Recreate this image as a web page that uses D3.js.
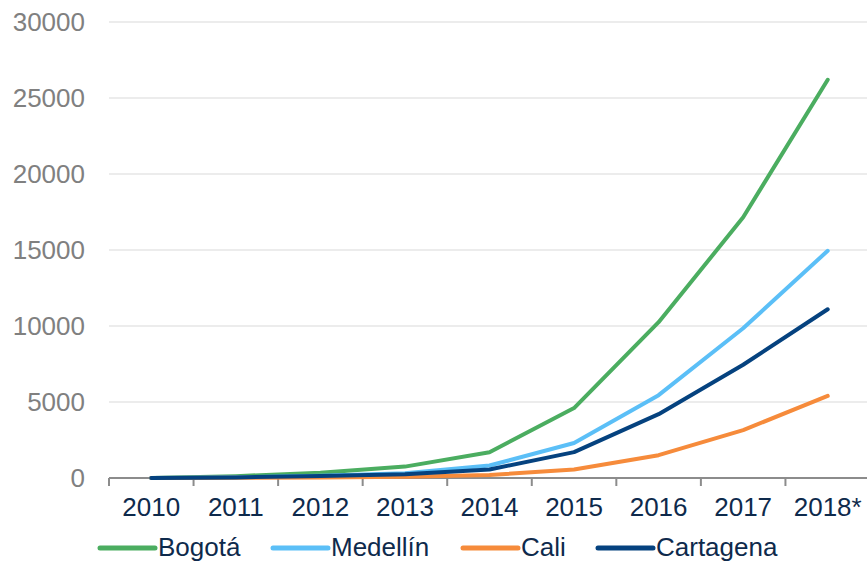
<!DOCTYPE html>
<html>
<head>
<meta charset="utf-8">
<script src="https://cdn.jsdelivr.net/npm/d3@7"></script>
<style>
  body { margin: 0; background: #fff; }
  svg { display: block; font-family: "Liberation Sans", Arial, sans-serif; }
</style>
</head>
<body>
<div id="chart"></div>
<script>
// Data
let years = ['2010', '2011', '2012', '2013', '2014', '2015', '2016', '2017', '2018*'];
let bogota = [0, 120, 350, 750, 1700, 4600, 10250, 17150, 26200];
let medellin = [0, 50, 150, 320, 820, 2300, 5450, 9850, 14950];
let cali = [0, 10, 30, 80, 200, 560, 1500, 3150, 5400];
let cartagena = [0, 40, 130, 250, 560, 1700, 4200, 7450, 11100];
let cities = ['Bogotá', 'Medellín', 'Cali', 'Cartagena'];
let yTicks = [0, 5000, 10000, 15000, 20000, 25000, 30000];

let seriesList = [
    { name: cities[0], values: bogota, color: '#4bad60' },
    { name: cities[1], values: medellin, color: '#5bbff7' },
    { name: cities[2], values: cali, color: '#f68b3b' },
    { name: cities[3], values: cartagena, color: '#05427f' }
];

// Dimensions
let svgWidth = 867;
let svgHeight = 563;
let margins = { top: 22, left: 109, bottom: 85 };
let chartWidth = 761;
let chartHeight = svgHeight - margins.top - margins.bottom;

let svg = d3.select('#chart').append('svg')
    .attr('width', svgWidth)
    .attr('height', svgHeight);
let chart = svg.append('g')
    .attr('transform', `translate(${margins.left}, ${margins.top})`);

// Scales
let xScale = d3.scaleBand().domain(years).range([0, chartWidth]).padding(0);
let yScale = d3.scaleLinear().domain([0, 30000]).range([chartHeight, 0]);

// Gridlines
chart.append('g')
    .selectAll('line')
    .data(yTicks.slice(1)).enter()
    .append('line')
    .attr('x1', 0)
    .attr('x2', chartWidth)
    .attr('y1', d => yScale(d))
    .attr('y2', d => yScale(d))
    .attr('stroke', '#d9d9d9')
    .attr('stroke-width', 1);

// Y axis labels
let yAxis = d3.axisLeft(yScale).tickValues(yTicks).tickFormat(d3.format('d')).tickSize(0).tickPadding(24);
let yAxisTag = chart.append('g').call(yAxis);
yAxisTag.select('.domain').remove();
yAxisTag.selectAll('text')
    .attr('fill', '#808080')
    .style('font-size', '26px')
    .style('font-family', '"Liberation Sans", Arial, sans-serif');

// X axis
let xAxis = d3.axisBottom(xScale).tickSize(0).tickPadding(20);
let xAxisTag = chart.append('g')
    .attr('transform', `translate(0, ${chartHeight})`)
    .call(xAxis);
xAxisTag.select('.domain').remove();
xAxisTag.selectAll('text')
    .attr('fill', '#0e2a4c')
    .style('font-size', '26px')
    .style('font-family', '"Liberation Sans", Arial, sans-serif');

// Axis line and boundary ticks
chart.append('line')
    .attr('x1', 0)
    .attr('x2', chartWidth)
    .attr('y1', chartHeight)
    .attr('y2', chartHeight)
    .attr('stroke', '#8c8c8c')
    .attr('stroke-width', 2);
chart.append('g')
    .selectAll('line')
    .data(years).enter()
    .append('line')
    .attr('x1', d => xScale(d))
    .attr('x2', d => xScale(d))
    .attr('y1', chartHeight)
    .attr('y2', chartHeight + 8)
    .attr('stroke', '#8c8c8c')
    .attr('stroke-width', 2);

// Lines
let line = d3.line()
    .x((d, i) => xScale(years[i]) + xScale.bandwidth() / 2)
    .y(d => yScale(d));

chart.append('g')
    .selectAll('path')
    .data(seriesList).enter()
    .append('path')
    .attr('d', d => line(d.values))
    .attr('fill', 'none')
    .attr('stroke', d => d.color)
    .attr('stroke-width', 4)
    .attr('stroke-linecap', 'round')
    .attr('stroke-linejoin', 'round');

// Legend
let legendX = [100, 273, 463, 598];
let legend = svg.append('g')
    .selectAll('g')
    .data(seriesList).enter()
    .append('g')
    .attr('transform', (d, i) => `translate(${legendX[i]}, 548)`);
legend.append('line')
    .attr('x1', 0)
    .attr('x2', 55)
    .attr('stroke', d => d.color)
    .attr('stroke-width', 5)
    .attr('stroke-linecap', 'round');
legend.append('text')
    .attr('x', 58)
    .attr('y', 8)
    .attr('fill', '#0e2a4c')
    .style('font-size', '26px')
    .text(d => d.name);
</script>
</body>
</html>
